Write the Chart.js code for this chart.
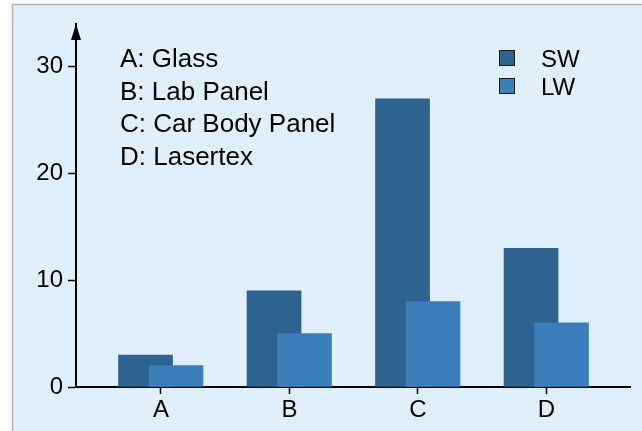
<!DOCTYPE html>
<html>
<head>
<meta charset="utf-8">
<script src="https://cdn.jsdelivr.net/npm/chart.js@4/dist/chart.umd.min.js"></script>
<style>
  html, body { margin: 0; padding: 0; background: #fff; }
  #grafico { display: block; }
</style>
</head>
<body>
<canvas id="grafico" width="642" height="431"></canvas>
<script>
// dados
const CATEGORIAS = ['A', 'B', 'C', 'D'];
const NOTAS = ['A: Glass', 'B: Lab Panel', 'C: Car Body Panel', 'D: Lasertex'];
const SW = [3, 9, 27, 13];
const LW = [2, 5, 8, 6];
const ROTULOS = ['SW', 'LW'];

const COR_SW = '#2e628f';
const COR_LW = '#3a7ebb';
const FUNDO = '#dff0fc';
const FONTE = '"Liberation Sans", Arial, sans-serif';

// faixa do eixo x (unidades de categoria) e deslocamento das barras
const X_MIN = -0.661, X_MAX = 3.65;
const DESL_SW = -0.12, DESL_LW = 0.117;

// fundo, seta do eixo y, notas e legenda
const extras = {
  id: 'extras',
  beforeDraw(chart) {
    const ctx = chart.ctx;
    ctx.save();
    ctx.fillStyle = FUNDO;
    ctx.fillRect(12, 4, chart.width - 12, chart.height - 4);
    ctx.strokeStyle = '#b0b0b0';
    ctx.lineWidth = 1.5;
    ctx.beginPath();
    ctx.moveTo(12.5, chart.height);
    ctx.lineTo(12.5, 4.5);
    ctx.lineTo(chart.width, 4.5);
    ctx.stroke();
    ctx.restore();
  },
  afterDraw(chart) {
    const ctx = chart.ctx;
    const area = chart.chartArea;
    const x0 = chart.scales.y.right;
    ctx.save();
    // seta
    ctx.fillStyle = '#000';
    ctx.beginPath();
    ctx.moveTo(x0, area.top);
    ctx.lineTo(x0 - 5, area.top + 16);
    ctx.lineTo(x0 + 5, area.top + 16);
    ctx.closePath();
    ctx.fill();

    // notas
    ctx.font = '26px ' + FONTE;
    ctx.textBaseline = 'alphabetic';
    ctx.textAlign = 'left';
    NOTAS.forEach((t, i) => ctx.fillText(t, 120, 67 + i * 32.5));

    // legenda
    ctx.font = '24px ' + FONTE;
    chart.data.datasets.forEach((ds, i) => {
      const y = 50 + i * 28;
      ctx.fillStyle = ds.backgroundColor;
      ctx.fillRect(499, y, 16, 16);
      ctx.strokeStyle = '#1a1a1a';
      ctx.lineWidth = 1;
      ctx.strokeRect(499.5, y + 0.5, 15, 15);
      ctx.fillStyle = '#000';
      ctx.fillText(ds.label, 541, y + 17);
    });
    ctx.restore();
  }
};

const pontos = arr => arr.map((v, i) => ({ x: i, y: v }));

const eixoOculto = desl => ({
  type: 'linear', display: false, offset: false,
  min: X_MIN - desl, max: X_MAX - desl,
  grid: { offset: false },
  ticks: { stepSize: 1, includeBounds: false }
});

new Chart(document.getElementById('grafico'), {
  type: 'bar',
  data: {
    datasets: [
      { label: ROTULOS[0], data: pontos(SW), backgroundColor: COR_SW, xAxisID: 'xs', order: 1 },
      { label: ROTULOS[1], data: pontos(LW), backgroundColor: COR_LW, xAxisID: 'xl', order: 0 }
    ]
  },
  options: {
    responsive: false,
    animation: false,
    devicePixelRatio: 1,
    grouped: false,
    barThickness: 54,
    borderWidth: 0,
    layout: { padding: { top: 24, right: 12, left: 0, bottom: 0 } },
    plugins: { legend: { display: false }, tooltip: { enabled: false } },
    scales: {
      x: {
        type: 'linear',
        position: 'bottom',
        offset: false,
        min: X_MIN,
        max: X_MAX,
        afterFit: s => { s.height = 44; },
        ticks: {
          stepSize: 1,
          includeBounds: false,
          autoSkip: false,
          maxRotation: 0,
          padding: 2,
          color: '#000',
          font: { family: FONTE, size: 24 },
          callback: v => CATEGORIAS[v] ?? ''
        },
        grid: { offset: false, drawOnChartArea: false, tickLength: 7, color: '#000', tickWidth: 1.5 },
        border: { color: '#000', width: 2 }
      },
      xs: eixoOculto(DESL_SW),
      xl: eixoOculto(DESL_LW),
      y: {
        min: 0,
        max: 34,
        afterFit: s => { s.width = 76; },
        ticks: {
          stepSize: 10,
          includeBounds: false,
          padding: 5,
          color: '#000',
          font: { family: FONTE, size: 24 }
        },
        grid: { drawOnChartArea: false, tickLength: 8, color: '#000', tickWidth: 1.5 },
        border: { color: '#000', width: 2 }
      }
    }
  },
  plugins: [extras]
});
</script>
</body>
</html>
